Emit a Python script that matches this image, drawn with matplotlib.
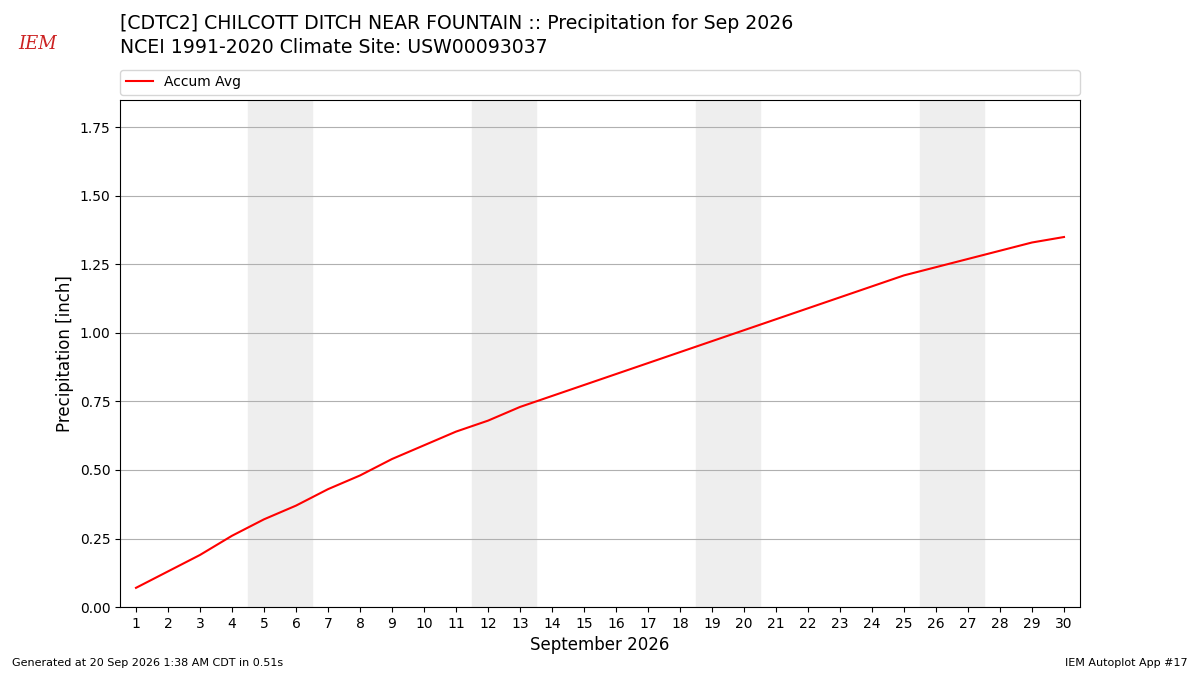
import numpy as np
import matplotlib.pyplot as plt

days = np.arange(1, 31)
accum_avg = [0.07, 0.13, 0.19, 0.26, 0.32, 0.37, 0.43, 0.48, 0.54, 0.59,
             0.64, 0.68, 0.73, 0.77, 0.81, 0.85, 0.89, 0.93, 0.97, 1.01,
             1.05, 1.09, 1.13, 1.17, 1.21, 1.24, 1.27, 1.30, 1.33, 1.35]
weekends = [5, 12, 19, 26]  # saturdays

fig = plt.figure(figsize=(12, 6.75), dpi=100)
ax = fig.add_axes([0.1, 0.1007, 0.8, 0.7512])

for sat in weekends:
    ax.axvspan(sat - 0.5, sat + 1.5, color='#eeeeee', zorder=0)

ax.plot(days, accum_avg, color='r', lw=1.5, label='Accum Avg', zorder=3)

ax.set_xlim(0.5, 30.5)
ax.set_ylim(0, 1.85)
ax.set_xticks(days)
ax.set_xticklabels([str(d) for d in days])
ax.set_yticks(np.arange(0, 1.76, 0.25))
ax.yaxis.grid(True, color='#b0b0b0', lw=0.8)
ax.set_axisbelow(True)
ax.tick_params(labelsize=10)
ax.set_xlabel('September 2026', fontsize=12)
ax.set_ylabel('Precipitation [inch]', fontsize=12)

ax.legend(loc='lower left', bbox_to_anchor=(0, 1.01, 1, 0.05),
          mode='expand', ncol=1, fontsize=10, borderaxespad=0)

fig.text(0.1, 0.965, '[CDTC2] CHILCOTT DITCH NEAR FOUNTAIN :: Precipitation for Sep 2026',
         fontsize=13.6, va='center')
fig.text(0.1, 0.929, 'NCEI 1991-2020 Climate Site: USW00093037',
         fontsize=13.6, va='center')

# simple IEM logo stand-in
fig.text(0.031, 0.935, 'IEM', color='#cc2222', fontsize=13, family='serif',
         style='italic', va='center', ha='center')
fig.text(0.01, 0.013, 'Generated at 20 Sep 2026 1:38 AM CDT in 0.51s', fontsize=8)
fig.text(0.99, 0.013, 'IEM Autoplot App #17', fontsize=8, ha='right')

fig.savefig('out.png', dpi=100)
